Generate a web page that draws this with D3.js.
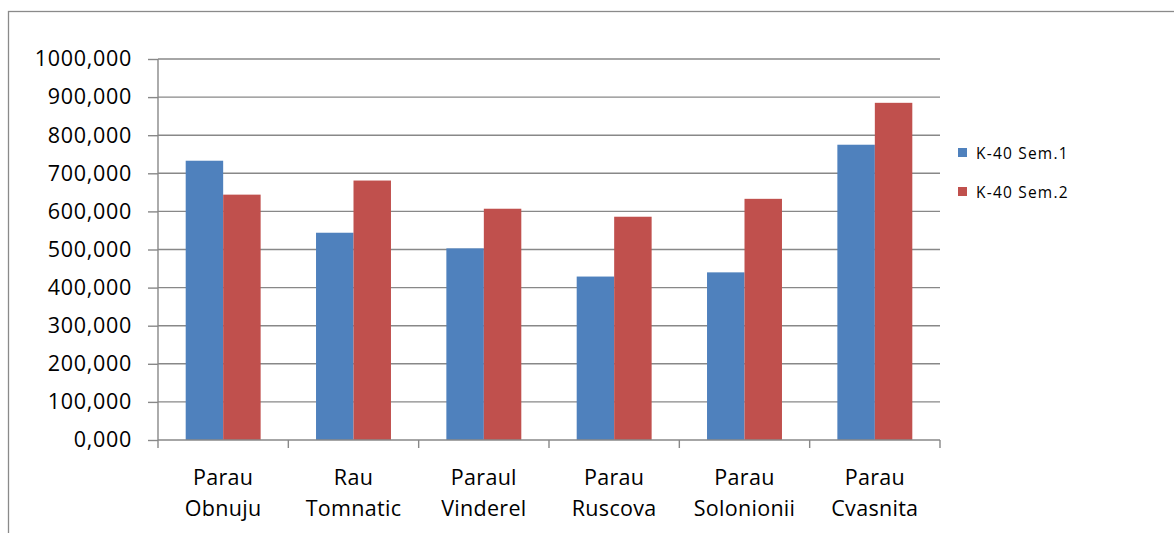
<!DOCTYPE html>
<html>
<head>
<meta charset="utf-8">
<script src="https://cdn.jsdelivr.net/npm/d3@7"></script>
<style>
  body { margin: 0; background: #fff; }
  text { font-family: "Open Sans", sans-serif; fill: #000; }
</style>
</head>
<body>
<script>
// Data
var categories = [["Parau", "Obnuju"], ["Rau", "Tomnatic"], ["Paraul", "Vinderel"],
                  ["Parau", "Ruscova"], ["Parau", "Solonionii"], ["Parau", "Cvasnita"]];
var seriesNames = ["K-40 Sem.1", "K-40 Sem.2"];
var sem1 = [733, 544, 503, 429, 440, 775];
var sem2 = [644, 681, 607, 586, 633, 885];
var yTicks = [0, 100, 200, 300, 400, 500, 600, 700, 800, 900, 1000];
var colors = ["#4F81BD", "#C0504D"];

var w = 1174;
var h = 533;

var svg = d3.select("body")
  .append("svg")
  .attr("width", w)
  .attr("height", h);

// outer frame (runs off the right and bottom edge)
svg.append("rect")
  .attr("x", 8.5).attr("y", 11.5)
  .attr("width", 1180).attr("height", 560)
  .attr("fill", "none")
  .attr("stroke", "#8a8a8a")
  .attr("stroke-width", 1.3);

var plotL = 158, plotR = 940, plotT = 59, plotB = 440;

var catIdx = categories.map(function(d, i) { return i; });

var x = d3.scaleBand()
  .domain(catIdx)
  .range([plotL, plotR])
  .paddingInner(0.425)
  .paddingOuter(0.2125);

var xs = d3.scaleBand()
  .domain([0, 1])
  .range([0, x.bandwidth()]);

var y = d3.scaleLinear()
  .domain([0, 1000])
  .range([plotB, plotT]);

var locale = d3.formatLocale({decimal: ",", thousands: "", grouping: [3], currency: ["", ""]});
var fmt = locale.format(".3f");

// gridlines
svg.selectAll(".grid")
  .data(yTicks.slice(1))
  .enter()
  .append("line")
  .attr("class", "grid")
  .attr("x1", plotL).attr("x2", plotR)
  .attr("y1", function(d) { return y(d); })
  .attr("y2", function(d) { return y(d); })
  .attr("stroke", "#888")
  .attr("stroke-width", 1.4);

// bars
var rows = categories.map(function(c, i) { return [sem1[i], sem2[i]]; });

var groups = svg.selectAll(".grp")
  .data(rows)
  .enter()
  .append("g")
  .attr("transform", function(d, i) { return "translate(" + x(i) + ",0)"; });

groups.selectAll("rect")
  .data(function(d) { return d; })
  .enter()
  .append("rect")
  .attr("x", function(d, j) { return xs(j); })
  .attr("width", xs.bandwidth())
  .attr("y", function(d) { return y(d); })
  .attr("height", function(d) { return plotB - y(d); })
  .attr("fill", function(d, j) { return colors[j]; });

// y axis
var yAxis = d3.axisLeft(y)
  .tickValues(yTicks)
  .tickFormat(fmt)
  .tickSize(10)
  .tickPadding(16);

var ya = svg.append("g")
  .attr("transform", "translate(" + plotL + ",0)")
  .call(yAxis);
ya.select(".domain").remove();
ya.append("line")
  .attr("x1", 0).attr("x2", 0)
  .attr("y1", plotT).attr("y2", plotB)
  .attr("stroke", "#888").attr("stroke-width", 1.4);
ya.selectAll(".tick line").attr("stroke", "#888").attr("stroke-width", 1.4);
ya.selectAll(".tick text")
  .attr("font-size", 21.5)
  .attr("letter-spacing", 0.7)
  .attr("font-family", "Open Sans, sans-serif")
  .attr("fill", "#000");

// x axis
var step = x.step();
var bounds = catIdx.map(function(i) { return x(i) - (step - x.bandwidth()) / 2; });
bounds.push(bounds[bounds.length - 1] + step);

svg.append("line")
  .attr("x1", plotL).attr("x2", plotR)
  .attr("y1", plotB).attr("y2", plotB)
  .attr("stroke", "#888").attr("stroke-width", 1.4);

svg.selectAll(".xtick")
  .data(bounds)
  .enter()
  .append("line")
  .attr("x1", function(d) { return d; })
  .attr("x2", function(d) { return d; })
  .attr("y1", plotB).attr("y2", plotB + 8)
  .attr("stroke", "#888").attr("stroke-width", 1.4);

var labels = svg.selectAll(".xlab")
  .data(categories)
  .enter()
  .append("text")
  .attr("text-anchor", "middle")
  .attr("font-size", 21.5)
  .attr("letter-spacing", 0.3);

labels.selectAll("tspan")
  .data(function(d, i) { return d.map(function(s) { return {s: s, i: i}; }); })
  .enter()
  .append("tspan")
  .attr("x", function(d) { return x(d.i) + x.bandwidth() / 2; })
  .attr("y", function(d, k) { return 485 + k * 31; })
  .text(function(d) { return d.s; });

// legend
var legend = svg.selectAll(".leg")
  .data(seriesNames)
  .enter()
  .append("g")
  .attr("transform", function(d, i) { return "translate(958," + (148 + i * 39) + ")"; });

legend.append("rect")
  .attr("width", 9).attr("height", 9)
  .attr("fill", function(d, i) { return colors[i]; });

legend.append("text")
  .attr("x", 18).attr("y", 11)
  .attr("font-size", 15.5)
  .attr("letter-spacing", 1.2)
  .text(function(d) { return d; });
</script>
</body>
</html>
